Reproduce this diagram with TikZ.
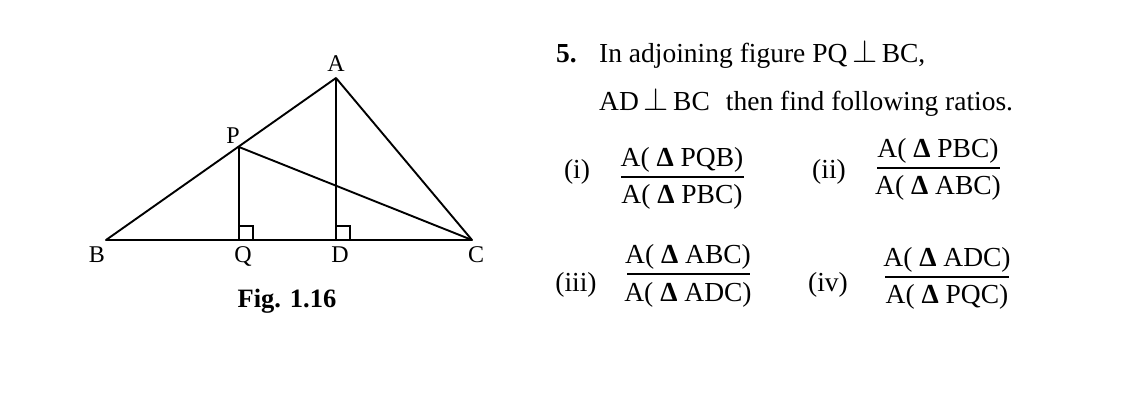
\documentclass[tikz,border=0pt]{standalone}
\usepackage{fontspec}
\usepackage{graphicx}
\setmainfont{Liberation Serif}
\usetikzlibrary{calc}
\newcommand{\myperp}{\,\raisebox{0pt}{\scalebox{1.3}{$\perp$}}\,}
\newcommand{\mydelta}{\textbf{Δ}}
\begin{document}
\begin{tikzpicture}[x=1pt,y=-1pt,
  edge/.style={line width=1.9pt,line join=round},
  ramark/.style={line width=1.5pt},
  ptlabel/.style={font=\fontsize{24}{28}\selectfont,inner sep=0pt},
  txt/.style={font=\fontsize{27.5}{32}\selectfont,inner sep=0pt,anchor=base west},
  frac/.style={font=\fontsize{27.5}{32}\selectfont,inner sep=0pt},
  bar/.style={line width=1.5pt}]
\useasboundingbox (0,0) rectangle (1138,415);
% points
\coordinate (B) at (106,240);
\coordinate (C) at (472,240);
\coordinate (A) at (336,78);
\coordinate (P) at (239,147);
\coordinate (Q) at (239,240);
\coordinate (D) at (336,240);
% right angle marks
\draw[ramark] ($(Q)+(0,-14)$) -- ++(14,0) -- ++(0,14);
\draw[ramark] ($(D)+(0,-14)$) -- ++(14,0) -- ++(0,14);
% triangle
\draw[edge] (B) -- (A) -- (C) -- cycle;
\draw[edge] (P) -- (Q);
\draw[edge] (A) -- (D);
\draw[edge] (P) -- (C);
% labels
\node[ptlabel] (lA) at (336,64) {A};
\node[ptlabel] (lP) at (233,136) {P};
\node[ptlabel] (lB) at (97,255) {B};
\node[ptlabel] (lQ) at (243,256) {Q};
\node[ptlabel] (lD) at (340,255) {D};
\node[ptlabel] (lC) at (476,255) {C};
\node[font=\bfseries\fontsize{26.5}{30}\selectfont,inner sep=0pt] (fig) at (287,301) {Fig. 1.16};
% text
\node[txt,font=\bfseries\fontsize{27.5}{32}\selectfont] (num) at (556,62) {5.};
\node[txt] (l1) at (599,62) {In adjoining figure PQ\myperp BC,};
\node[txt] (l2) at (599,110) {AD\myperp BC\hspace{16pt}then find following ratios.};
% (i)
\node[frac] (ri) at (577,172) {(i)};
\node[frac] (n1) at (682,160) {A( \mydelta\ PQB)};
\node[frac] (d1) at (682,197) {A( \mydelta\ PBC)};
\draw[bar] (621,177) -- (744,177);
% (ii)
\node[frac] (rii) at (829,172) {(ii)};
\node[frac] (n2) at (938,151) {A( \mydelta\ PBC)};
\node[frac] (d2) at (938,188) {A( \mydelta\ ABC)};
\draw[bar] (877,168) -- (1000,168);
% (iii)
\node[frac] (riii) at (576,285) {(iii)};
\node[frac] (n3) at (688,257) {A( \mydelta\ ABC)};
\node[frac] (d3) at (688,295) {A( \mydelta\ ADC)};
\draw[bar] (627,274) -- (750,274);
% (iv)
\node[frac] (riv) at (828,285) {(iv)};
\node[frac] (n4) at (947,260) {A( \mydelta\ ADC)};
\node[frac] (d4) at (947,297) {A( \mydelta\ PQC)};
\draw[bar] (885,277) -- (1009,277);
\end{tikzpicture}
\end{document}
